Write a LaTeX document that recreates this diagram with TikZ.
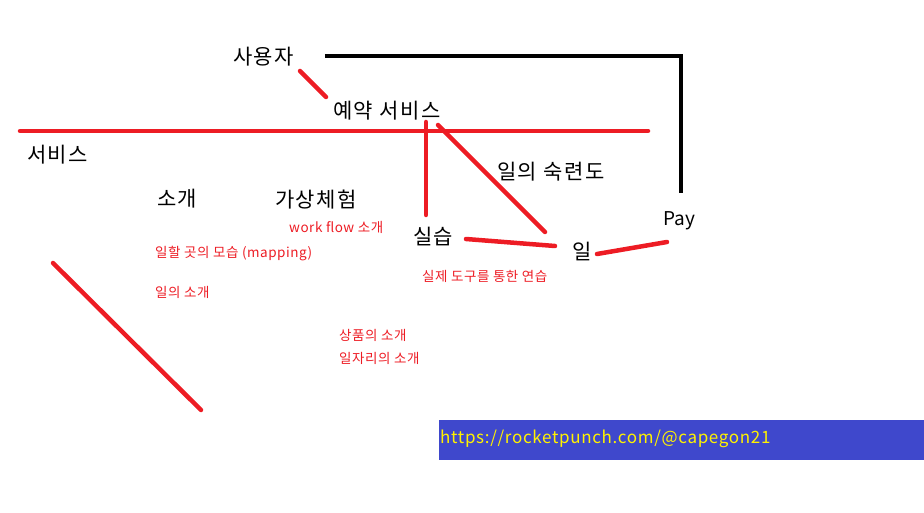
\documentclass[tikz,border=0pt]{standalone}
\usepackage{fontspec}
\setmainfont{Noto Sans CJK KR}
\newfontfamily\bigfont[LetterSpace=7]{Noto Sans CJK KR}
\newfontfamily\smallfont[LetterSpace=4]{Noto Sans CJK KR}
\newfontfamily\urlfont[LetterSpace=4]{Noto Sans CJK KR}
\definecolor{pred}{HTML}{ED1C24}
\definecolor{pblue}{HTML}{3F48CC}
\definecolor{pyellow}{HTML}{FFF200}
\begin{document}
\begin{tikzpicture}[x=1pt,y=-1pt,
  big/.style={anchor=base west,inner sep=0pt,font=\bigfont\fontsize{21}{24}\selectfont},
  small/.style={anchor=base west,inner sep=0pt,text=pred,font=\smallfont\fontsize{13.5}{16}\selectfont},
  redline/.style={draw=pred,line width=4.5pt,line cap=round},
  blackline/.style={draw=black,line width=4.5pt}]
\useasboundingbox (0,0) rectangle (924,513);
% texts
\node[big] (user) at (233,65) {사용자};
\node[big] (resv) at (333,119) {예약 서비스};
\node[big] (svc) at (27,163) {서비스};
\node[big] (intro) at (157,207) {소개};
\node[big] (virt) at (275,208) {가상체험};
\node[big] (prac) at (413,244) {실습};
\node[big] (skill) at (497,180) {일의 숙련도};
\node[anchor=base west,inner sep=0pt,font=\fontsize{19}{22}\selectfont] (pay) at (663,226) {Pay};
\node[big] (work) at (572,260) {일};
\node[small] (wf) at (289,233) {work flow 소개};
\node[small] (map) at (155,258) {일할 곳의 모습 (mapping)};
\node[small] (wi) at (155,298) {일의 소개};
\node[small] (tool) at (422,282) {실제 도구를 통한 연습};
\node[small] (prod) at (339,340) {상품의 소개};
\node[small] (job) at (339,363) {일자리의 소개};
% url banner
\fill[pblue] (439,420) rectangle (924,460);
\node[anchor=base west,inner sep=0pt,text=pyellow,font=\urlfont\fontsize{17}{20}\selectfont] (url) at (440,443) {https://rocketpunch.com/@capegon21};
% coordinates for strokes
\coordinate (b1) at (327,56);
\coordinate (b2) at (681,56);
\coordinate (b3) at (681,193);
\coordinate (r1a) at (300,71);
\coordinate (r1b) at (326,97);
\coordinate (h1) at (20,131);
\coordinate (h2) at (648,131);
\coordinate (v1) at (426,122);
\coordinate (v2) at (426,215);
\coordinate (d1) at (438,125);
\coordinate (d2) at (545,232);
\coordinate (p1) at (466,239);
\coordinate (p2) at (555,246);
\coordinate (q1) at (597,254);
\coordinate (q2) at (667,242);
\coordinate (s1) at (53,263);
\coordinate (s2) at (201,410);
% strokes
\draw[blackline] ([xshift=-2.25pt]b1) -- (b2) -- (b3);
\draw[redline] (r1a) -- (r1b);
\draw[redline] (h1) -- (h2);
\draw[redline] (v1) -- (v2);
\draw[redline] (d1) -- (d2);
\draw[redline] (p1) -- (p2);
\draw[redline] (q1) -- (q2);
\draw[redline] (s1) -- (s2);
\end{tikzpicture}
\end{document}
